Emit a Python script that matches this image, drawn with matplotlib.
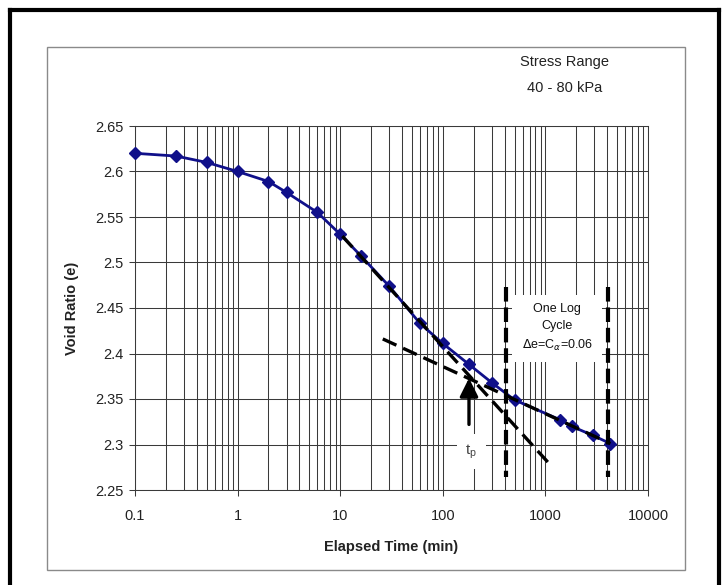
import numpy as np
import matplotlib.pyplot as plt
from matplotlib.lines import Line2D
from matplotlib.patches import Rectangle
from matplotlib.ticker import LogLocator, NullFormatter

plt.rcParams['font.family'] = ['Liberation Sans', 'DejaVu Sans']

# consolidation readings, stress range 40 - 80 kPa
time_min = [0.1, 0.25, 0.5, 1, 2, 3, 6, 10, 16, 30, 60, 100, 180, 300, 500,
            1400, 1800, 2900, 4300]
void_ratio = [2.620, 2.617, 2.610, 2.600, 2.589, 2.577, 2.555, 2.531, 2.507,
              2.474, 2.433, 2.411, 2.388, 2.368, 2.349, 2.327, 2.320, 2.310,
              2.301]

# construction lines (Casagrande)
primary_t = [10.5, 1130]
primary_e = [2.529, 2.277]
secondary_t = [26, 4300]
secondary_e = [2.416, 2.301]
cycle_t = [410, 4100]
cycle_e = [2.473, 2.264]
tp_time = 180
tp_arrow_e = [2.319, 2.376]
tp_label_e = 2.292

y_ticks = [2.25, 2.3, 2.35, 2.4, 2.45, 2.5, 2.55, 2.6, 2.65]
y_labels = ['2.25', '2.3', '2.35', '2.4', '2.45', '2.5', '2.55', '2.6', '2.65']
x_ticks = [0.1, 1, 10, 100, 1000, 10000]
x_labels = ['0.1', '1', '10', '100', '1000', '10000']

W, H = 728, 585
fig = plt.figure(figsize=(W / 100, H / 100), dpi=100)

# outer frame + chart area box
fx = lambda p: p / W
fy = lambda p: 1 - p / H
for xs, ys in [([10, 10], [10, 585]), ([10, 719], [10, 10]), ([719, 719], [10, 585])]:
    fig.add_artist(Line2D([fx(v) for v in xs], [fy(v) for v in ys],
                          transform=fig.transFigure, color='black', lw=3))
fig.add_artist(Rectangle((fx(47), fy(570)), (685 - 47) / W, (570 - 47) / H,
                         transform=fig.transFigure, fill=False,
                         edgecolor='#8a8a8a', lw=1))

ax = fig.add_axes([fx(135), fy(490), (648 - 135) / W, (490 - 126) / H])

grid = '#3a3a3a'
ax.set_xscale('log')
ax.set_xlim(0.1, 10000)
ax.set_ylim(2.25, 2.65)
ax.set_xticks(x_ticks)
ax.set_xticklabels(x_labels)
ax.xaxis.set_minor_locator(LogLocator(base=10, subs=np.arange(2, 10)))
ax.xaxis.set_minor_formatter(NullFormatter())
ax.set_yticks(y_ticks)
ax.set_yticklabels(y_labels)
ax.grid(True, which='both', color=grid, lw=0.75)
ax.tick_params(which='major', direction='out', length=4, width=0.75,
               color=grid, labelsize=10.5, labelcolor='#222222', pad=4)
ax.tick_params(axis='x', pad=10)
ax.tick_params(which='minor', length=0)
for s in ax.spines.values():
    s.set_color(grid)
    s.set_linewidth(0.75)

# data curve
ax.plot(time_min, void_ratio, color='#10108a', lw=2, marker='D', ms=6,
        zorder=4, clip_on=False)

# tangent lines
ax.plot(primary_t, primary_e, color='black', lw=2.4, dashes=(4.5, 2.2), zorder=5)
ax.plot(secondary_t, secondary_e, color='black', lw=2.4, dashes=(4.5, 2.2),
        zorder=5)
for t in cycle_t:
    ax.plot([t, t], cycle_e, color='black', lw=3, dashes=(3.5, 1.4), zorder=5)

ax.text(1300, 2.428, 'One Log\nCycle\n$\\Delta$e=C$_\\alpha$=0.06',
        ha='center', va='center', fontsize=9, color='#111111', linespacing=1.5,
        bbox=dict(facecolor='white', edgecolor='none', pad=7), zorder=3)

# t_p arrow and label
ax.annotate('', xy=(tp_time, tp_arrow_e[1]), xytext=(tp_time, tp_arrow_e[0]),
            arrowprops=dict(arrowstyle='-|>,head_width=0.55,head_length=1.1',
                            color='black', lw=2.4), zorder=6)
ax.text(tp_time * 1.05, tp_label_e, '$\\mathregular{t_p}$', ha='center',
        va='center', fontsize=11, color='#444444',
        bbox=dict(facecolor='white', edgecolor='none', pad=6), zorder=3)

ax.set_xlabel('Elapsed Time (min)', fontsize=10.5, fontweight='bold',
              color='#222222', labelpad=12)
ax.set_ylabel('Void Ratio (e)', fontsize=10.5, fontweight='bold',
              color='#222222', labelpad=12)

fig.text(fx(565), fy(62), 'Stress Range', ha='center', va='center',
         fontsize=10.5, color='#222222')
fig.text(fx(565), fy(88), '40 - 80 kPa', ha='center', va='center',
         fontsize=10.5, color='#222222')

fig.savefig('out.png', dpi=100)
